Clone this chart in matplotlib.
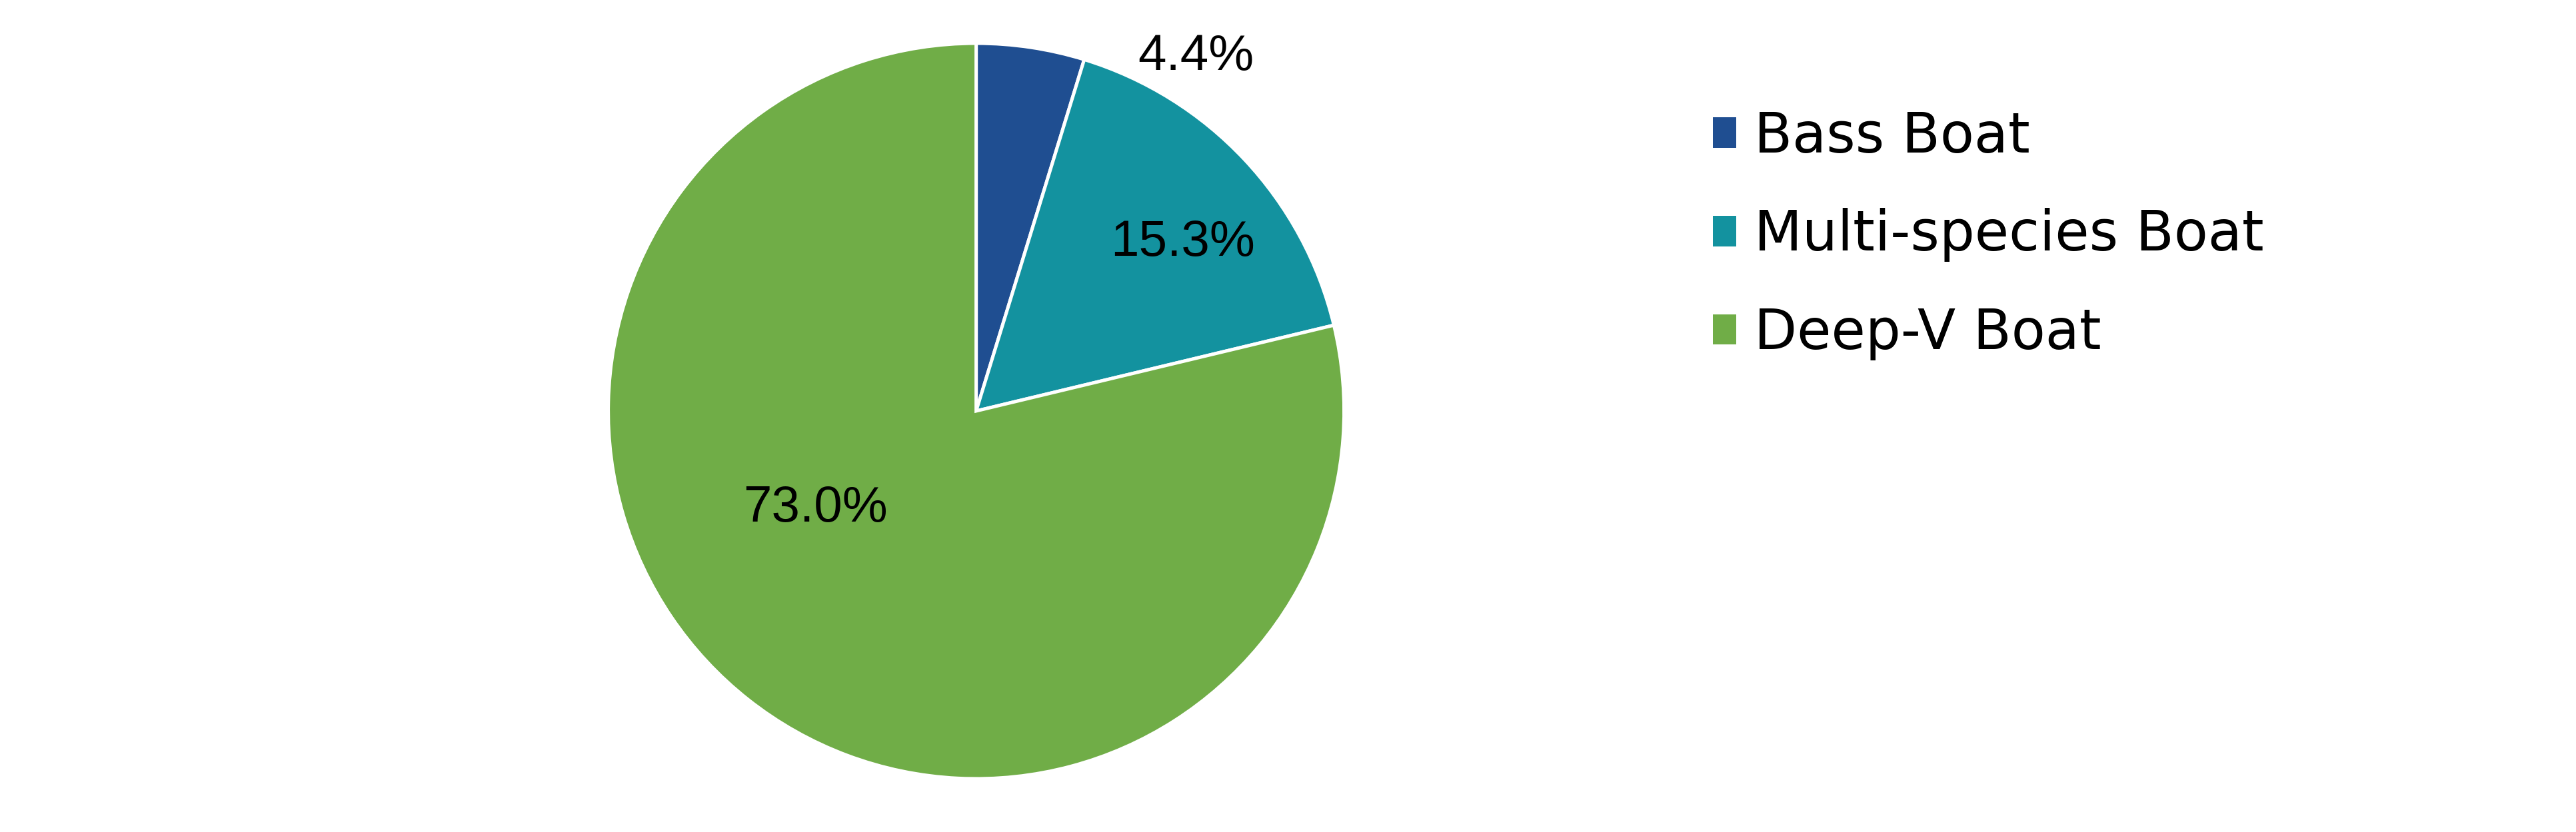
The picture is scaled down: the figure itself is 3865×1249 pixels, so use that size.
import matplotlib
matplotlib.use("Agg")
import matplotlib.pyplot as plt
from matplotlib.patches import Patch

categories = ["Bass Boat", "Multi-species Boat", "Deep-V Boat"]
values = [4.4, 15.3, 73.0]
value_labels = ["4.4%", "15.3%", "73.0%"]
colors = ["#1F4E91", "#13929F", "#70AD47"]

W, H, DPI = 3866, 1249, 100
fig = plt.figure(figsize=(W / DPI, H / DPI), dpi=DPI)

cx, cy, r = 1464.6, 617, 552
ax = fig.add_axes([(cx - r) / W, (H - cy - r) / H, 2 * r / W, 2 * r / H])
wedges, _ = ax.pie(values, colors=colors, startangle=90, counterclock=False,
                   radius=1.0,
                   wedgeprops=dict(edgecolor="white", linewidth=3.6))
ax.set_xlim(-1, 1)
ax.set_ylim(-1, 1)
ax.set_aspect("equal")
ax.axis("off")

label_pos = [(0.598, 0.962), (0.562, 0.458), (-0.437, -0.266)]
for (x, y), t in zip(label_pos, value_labels):
    ax.text(x, y, t, ha="center", va="center", fontsize=55,
            family="Liberation Sans", color="black", clip_on=False)

handles = [Patch(facecolor=c, edgecolor="none") for c in colors]
fig.legend(handles, categories, loc="center left",
           bbox_to_anchor=(2570 / W, 1 - 353 / H), frameon=False,
           handlelength=0.42, handleheight=0.47,
           handletextpad=0.33, labelspacing=0.8, borderaxespad=0,
           borderpad=0, prop=dict(family="DejaVu Sans", size=60))

fig.savefig("out.png", dpi=DPI, facecolor="white")
